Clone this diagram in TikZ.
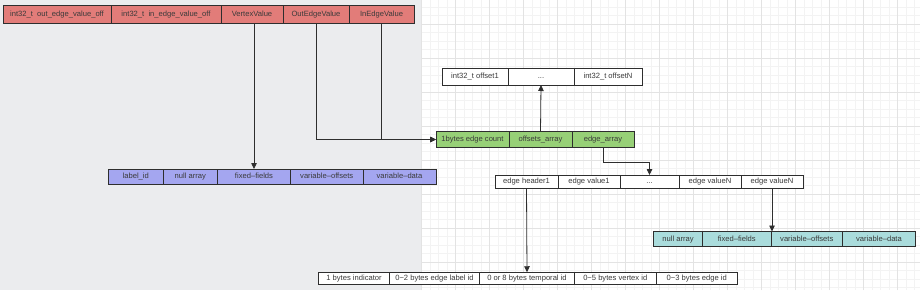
\documentclass[tikz,border=0pt]{standalone}
\usepackage{fontspec}
\setmainfont{Liberation Sans}
\usepackage{tikz}
\usetikzlibrary{arrows.meta,positioning}
\definecolor{bggrey}{HTML}{EBECEE}
\definecolor{gridminor}{HTML}{F3F3F3}
\definecolor{gridmajor}{HTML}{E3E3E3}
\definecolor{cellline}{HTML}{2E2E2E}
\definecolor{celltext}{HTML}{3A3A3A}
\definecolor{cellred}{HTML}{E27C79}
\definecolor{cellgreen}{HTML}{97D077}
\definecolor{cellblue}{HTML}{A4A6F0}
\definecolor{cellcyan}{HTML}{AADCDC}

\begin{document}
\begin{tikzpicture}[
  x=1pt, y=-1pt,
  node distance=0pt,
  cell/.style={draw=cellline, line width=0.8pt, inner sep=0pt, outer sep=0pt,
               text height=5.4pt, text depth=1.4pt,
               font=\fontsize{7.6}{9}\selectfont, text=celltext},
  redcell/.style={cell, fill=cellred, minimum height=18pt},
  offcell/.style={cell, fill=white, minimum height=17pt},
  greencell/.style={cell, fill=cellgreen, minimum height=15.5pt},
  bluecell/.style={cell, fill=cellblue, minimum height=15pt},
  edgecell/.style={cell, fill=white, minimum height=13pt},
  cyancell/.style={cell, fill=cellcyan, minimum height=15pt},
  idcell/.style={cell, fill=white, minimum height=12.5pt},
  arr/.style={-{Triangle[length=6pt,width=5.5pt]}, line width=0.8pt, draw=cellline}]
\useasboundingbox (0,0) rectangle (920,290);
\fill[bggrey] (0,0) rectangle (421,290);
\fill[white] (421,0) rectangle (920,290);
\begin{scope}
  \clip (421,0) rectangle (920,290);
  \begin{scope}[shift={(421.3,24)}]
    \draw[gridminor, line width=0.6pt, xstep=8.5pt, ystep=8.5pt] (0,266) grid (499,-24);
    \draw[gridmajor, line width=0.7pt, xstep=34pt, ystep=34pt] (0,266) grid (499,-24);
  \end{scope}
\end{scope}

\node[redcell, minimum width=108pt, anchor=west] (ooff) at (3,14) {int32\_t\ \ out\_edge\_value\_off};
\node[redcell, minimum width=110pt, right=of ooff] (ioff) {int32\_t\ \ in\_edge\_value\_off};
\node[redcell, minimum width=62pt, right=of ioff] (vval) {VertexValue};
\node[redcell, minimum width=66pt, right=of vval] (oeval) {OutEdgeValue};
\node[redcell, minimum width=65pt, right=of oeval] (ieval) {InEdgeValue};

\node[offcell, minimum width=66pt, anchor=west] (off1) at (442,76.5) {int32\_t offset1};
\node[offcell, minimum width=66pt, right=of off1] (offdots) {...};
\node[offcell, minimum width=68pt, right=of offdots] (offn) {int32\_t offsetN};

\node[greencell, minimum width=73pt, anchor=west] (ecnt) at (436,139.5) {1bytes edge count};
\node[greencell, minimum width=63pt, right=of ecnt] (oarr) {offsets\_array};
\node[greencell, minimum width=62pt, right=of oarr] (earr) {edge\_array};

\node[bluecell, minimum width=54.5pt, anchor=west] (vlabel) at (108.5,176.5) {label\_id};
\node[bluecell, minimum width=54.5pt, right=of vlabel] (vnull) {null array};
\node[bluecell, minimum width=73pt, right=of vnull] (vfixed) {fixed–fields};
\node[bluecell, minimum width=72.5pt, right=of vfixed] (voffs) {variable–offsets};
\node[bluecell, minimum width=73pt, right=of voffs] (vdata) {variable–data};

\node[edgecell, minimum width=63pt, anchor=west] (ehead) at (495,181.5) {edge header1};
\node[edgecell, minimum width=62pt, right=of ehead] (eval1) {edge value1};
\node[edgecell, minimum width=59pt, right=of eval1] (edots) {...};
\node[edgecell, minimum width=62pt, right=of edots] (evaln) {edge valueN};
\node[edgecell, minimum width=62pt, right=of evaln] (evalm) {edge valueN};

\node[cyancell, minimum width=49pt, anchor=west] (enull) at (653.5,239) {null array};
\node[cyancell, minimum width=68.5pt, right=of enull] (efixed) {fixed–fields};
\node[cyancell, minimum width=71.5pt, right=of efixed] (eoffs) {variable–offsets};
\node[cyancell, minimum width=73pt, right=of eoffs] (edata) {variable–data};

\node[idcell, minimum width=71pt, anchor=west] (hind) at (318.5,278.5) {1 bytes indicator};
\node[idcell, minimum width=90pt, right=of hind] (hlabel) {0\textasciitilde2 bytes edge label id};
\node[idcell, minimum width=95pt, right=of hlabel] (htemp) {0 or 8 bytes temporal id};
\node[idcell, minimum width=81.5pt, right=of htemp] (hvert) {0\textasciitilde5 bytes vertex id};
\node[idcell, minimum width=81.5pt, right=of hvert] (hedge) {0\textasciitilde3 bytes edge id};

\draw[arr] (vfixed.north |- vval.south) -- (vfixed.north);
\draw[arr] (oeval.south) |- (ecnt.west);
\draw[arr] (ieval.south) |- (ecnt.west);
\draw[arr] (oarr.north) -- (offdots.south);
\draw[arr] (earr.south) -- ++(0,15) -| (edots.north);
\draw[arr] (ehead.south) -- (htemp.north);
\draw[arr] (evalm.south) -- (evalm.south |- eoffs.north);
\end{tikzpicture}
\end{document}
